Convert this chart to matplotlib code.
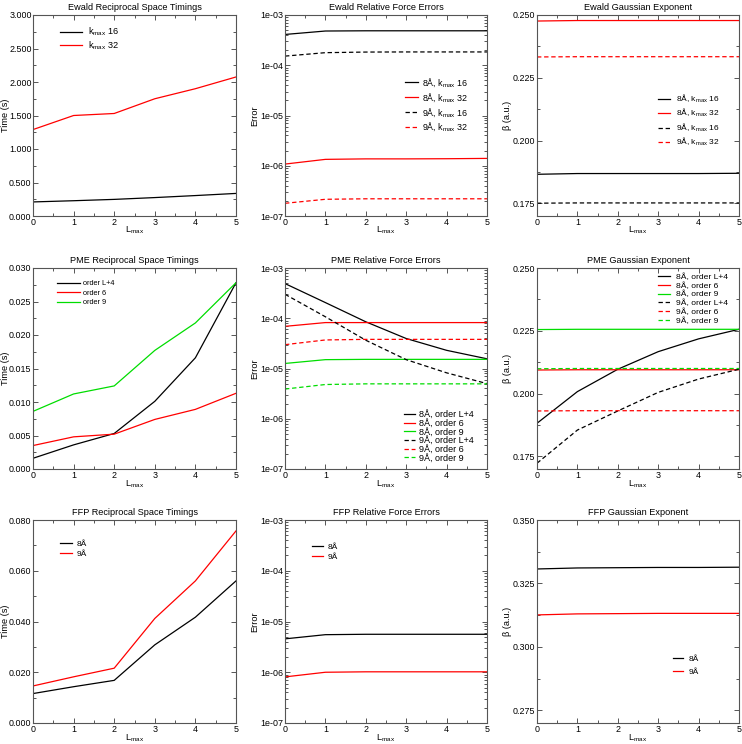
import matplotlib
matplotlib.use("Agg")
import matplotlib.pyplot as plt
from matplotlib.ticker import MultipleLocator, FormatStrFormatter, LogLocator, NullFormatter

plt.rcParams['font.family'] = ['Liberation Sans', 'DejaVu Sans']
plt.rcParams['mathtext.default'] = 'regular'

# ---------------- data ----------------
lmax = [0, 1, 2, 3, 4, 5]

ewald_time_k16 = [0.210, 0.228, 0.248, 0.275, 0.305, 0.337]
ewald_time_k32 = [1.29, 1.50, 1.53, 1.75, 1.90, 2.075]

ewald_err_8_k16 = [4.1e-4, 4.8e-4, 4.85e-4, 4.85e-4, 4.85e-4, 4.85e-4]
ewald_err_8_k32 = [1.08e-6, 1.34e-6, 1.37e-6, 1.37e-6, 1.38e-6, 1.40e-6]
ewald_err_9_k16 = [1.52e-4, 1.78e-4, 1.83e-4, 1.84e-4, 1.84e-4, 1.84e-4]
ewald_err_9_k32 = [1.79e-7, 2.15e-7, 2.2e-7, 2.2e-7, 2.2e-7, 2.2e-7]

ewald_beta_8_k16 = [0.1866, 0.1869, 0.1869, 0.1869, 0.1869, 0.1870]
ewald_beta_8_k32 = [0.2476, 0.2478, 0.2478, 0.2478, 0.2478, 0.2478]
ewald_beta_9_k16 = [0.1751, 0.1752, 0.1752, 0.1752, 0.1752, 0.1752]
ewald_beta_9_k32 = [0.2333, 0.2334, 0.2334, 0.2334, 0.2334, 0.2334]

pme_time_lp4 = [0.0016, 0.0036, 0.0053, 0.0101, 0.0166, 0.0278]
pme_time_o6 = [0.0035, 0.0048, 0.0052, 0.0074, 0.0089, 0.0113]
pme_time_o9 = [0.0086, 0.0112, 0.0124, 0.0177, 0.0218, 0.0278]

pme_err_8_lp4 = [4.9e-4, 2.05e-4, 8.5e-5, 3.95e-5, 2.3e-5, 1.56e-5]
pme_err_8_o6 = [6.9e-5, 8.2e-5, 8.2e-5, 8.2e-5, 8.2e-5, 8.2e-5]
pme_err_8_o9 = [1.26e-5, 1.5e-5, 1.52e-5, 1.52e-5, 1.52e-5, 1.52e-5]
pme_err_9_lp4 = [3.0e-4, 1.07e-4, 3.65e-5, 1.5e-5, 8.2e-6, 5.0e-6]
pme_err_9_o6 = [2.98e-5, 3.7e-5, 3.8e-5, 3.8e-5, 3.8e-5, 3.8e-5]
pme_err_9_o9 = [3.9e-6, 4.8e-6, 4.95e-6, 4.95e-6, 4.95e-6, 4.95e-6]

pme_beta_8_lp4 = [0.1882, 0.2008, 0.2097, 0.2167, 0.2218, 0.2256]
pme_beta_8_o6 = [0.2094, 0.2095, 0.2095, 0.2095, 0.2095, 0.2095]
pme_beta_8_o9 = [0.2255, 0.2256, 0.2256, 0.2256, 0.2256, 0.2256]
pme_beta_9_lp4 = [0.1723, 0.1855, 0.1931, 0.2005, 0.2058, 0.2097]
pme_beta_9_o6 = [0.1931, 0.1932, 0.1932, 0.1932, 0.1932, 0.1932]
pme_beta_9_o9 = [0.2099, 0.2100, 0.2100, 0.2100, 0.2100, 0.2100]

ffp_time_8 = [0.0116, 0.0143, 0.0168, 0.0308, 0.0417, 0.0560]
ffp_time_9 = [0.0146, 0.0182, 0.0216, 0.0412, 0.0560, 0.0757]

ffp_err_8 = [4.55e-6, 5.5e-6, 5.6e-6, 5.6e-6, 5.6e-6, 5.6e-6]
ffp_err_9 = [8.1e-7, 1.0e-6, 1.02e-6, 1.02e-6, 1.02e-6, 1.02e-6]

ffp_beta_8 = [0.3307, 0.3311, 0.3312, 0.3313, 0.3313, 0.3314]
ffp_beta_9 = [0.3126, 0.3130, 0.3131, 0.3132, 0.3132, 0.3132]

titles = ["Ewald Reciprocal Space Timings", "Ewald Relative Force Errors", "Ewald Gaussian Exponent",
          "PME Reciprocal Space Timings", "PME Relative Force Errors", "PME Gaussian Exponent",
          "FFP Reciprocal Space Timings", "FFP Relative Force Errors", "FFP Gaussian Exponent"]

# ---------------- layout ----------------
W, H = 742, 744
fig = plt.figure(figsize=(W / 100, H / 100), dpi=100)
cols = [(33, 236), (285, 487), (537, 739)]
rows = [(15, 216), (268, 469), (520, 723)]
ylabel_x = [5.5, 255, 507]   # pixel x centre of y-axis labels

BLACK, RED, GREEN = 'black', '#ff0000', '#00dd00'
DASH = (3.5, 2.2)
SPINE = '#555555'


def make_ax(r, c):
    x0, x1 = cols[c]
    y0, y1 = rows[r]
    ax = fig.add_axes([x0 / W, 1 - y1 / H, (x1 - x0) / W, (y1 - y0) / H])
    ax.set_xlim(0, 5)
    ax.xaxis.set_major_locator(MultipleLocator(1))
    ax.xaxis.set_minor_locator(MultipleLocator(0.5))
    ax.tick_params(which='both', direction='in', top=True, right=True,
                   labelsize=6.4, color=SPINE, width=0.7)
    ax.tick_params(which='major', length=3.8, pad=1.5)
    ax.tick_params(which='minor', length=2.0)
    ax.tick_params(axis='y', which='major', pad=1.0)
    for s in ax.spines.values():
        s.set_color(SPINE)
        s.set_linewidth(0.8)
    ax.set_title(titles[r * 3 + c], fontsize=6.6, pad=3.5)
    ax.set_xlabel('L$_{max}$', fontsize=6.6, labelpad=-1.5)
    ax._col = c
    return ax


def place_ylabel(ax, text):
    c = ax._col
    x0, x1 = cols[c]
    ax.set_ylabel(text, fontsize=6.6, va='center')
    ax.yaxis.set_label_coords((ylabel_x[c] - x0) / (x1 - x0), 0.5)


def lin_axis(ax, lo, hi, major, minor, ylabel):
    ax.set_ylim(lo, hi)
    ax.yaxis.set_major_locator(MultipleLocator(major))
    ax.yaxis.set_minor_locator(MultipleLocator(minor))
    ax.yaxis.set_major_formatter(FormatStrFormatter('%.3f'))
    place_ylabel(ax, ylabel)


def log_axis(ax):
    ax.set_yscale('log')
    ax.set_ylim(1e-7, 1e-3)
    ax.yaxis.set_major_locator(LogLocator(base=10, numticks=10))
    ax.yaxis.set_minor_locator(LogLocator(base=10, subs=range(2, 10), numticks=20))
    ax.yaxis.set_minor_formatter(NullFormatter())
    ax.yaxis.set_major_formatter(FormatStrFormatter('%.0e'))
    place_ylabel(ax, 'Error')


def legend(ax, xpx, ypx, fs, hl_px, pad_px, spacing):
    fs_px = fs * 100 / 72
    ax.legend(loc='upper left', bbox_to_anchor=(xpx / W, 1 - ypx / H),
              bbox_transform=fig.transFigure, frameon=False, fontsize=fs,
              handlelength=hl_px / fs_px, handletextpad=pad_px / fs_px,
              labelspacing=spacing, borderpad=0, borderaxespad=0)


def line(ax, y, color, dashed=False, label=None):
    ln, = ax.plot(lmax, y, color=color, lw=0.9, label=label)
    if dashed:
        ln.set_dashes(DASH)
    return ln


# ---- Row 1: Ewald ----
ax = make_ax(0, 0)
line(ax, ewald_time_k16, BLACK, label='k$_{max}$ 16')
line(ax, ewald_time_k32, RED, label='k$_{max}$ 32')
lin_axis(ax, 0, 3.0, 0.5, 0.25, 'Time (s)')
legend(ax, 60, 26, 6.6, 22, 6, 0.1)

ax = make_ax(0, 1)
line(ax, ewald_err_8_k16, BLACK, label='8Å, k$_{max}$ 16')
line(ax, ewald_err_8_k32, RED, label='8Å, k$_{max}$ 32')
line(ax, ewald_err_9_k16, BLACK, True, label='9Å, k$_{max}$ 16')
line(ax, ewald_err_9_k32, RED, True, label='9Å, k$_{max}$ 32')
log_axis(ax)
legend(ax, 405, 76, 6.4, 13, 4, 0.2)

ax = make_ax(0, 2)
line(ax, ewald_beta_8_k16, BLACK, label='8Å, k$_{max}$ 16')
line(ax, ewald_beta_8_k32, RED, label='8Å, k$_{max}$ 32')
line(ax, ewald_beta_9_k16, BLACK, True, label='9Å, k$_{max}$ 16')
line(ax, ewald_beta_9_k32, RED, True, label='9Å, k$_{max}$ 32')
lin_axis(ax, 0.170, 0.250, 0.025, 0.0125, 'β (a.u.)')
legend(ax, 658, 93, 6.0, 12, 6, 0.25)

# ---- Row 2: PME ----
ax = make_ax(1, 0)
line(ax, pme_time_lp4, BLACK, label='order L+4')
line(ax, pme_time_o6, RED, label='order 6')
line(ax, pme_time_o9, GREEN, label='order 9')
lin_axis(ax, 0, 0.030, 0.005, 0.0025, 'Time (s)')
legend(ax, 57, 280, 5.3, 23, 3, 0.33)

ax = make_ax(1, 1)
line(ax, pme_err_8_lp4, BLACK, label='8Å, order L+4')
line(ax, pme_err_8_o6, RED, label='8Å, order 6')
line(ax, pme_err_8_o9, GREEN, label='8Å, order 9')
line(ax, pme_err_9_lp4, BLACK, True, label='9Å, order L+4')
line(ax, pme_err_9_o6, RED, True, label='9Å, order 6')
line(ax, pme_err_9_o9, GREEN, True, label='9Å, order 9')
log_axis(ax)
legend(ax, 404, 410, 6.5, 11, 4, -0.03)

ax = make_ax(1, 2)
line(ax, pme_beta_8_lp4, BLACK, label='8Å, order L+4')
line(ax, pme_beta_8_o6, RED, label='8Å, order 6')
line(ax, pme_beta_8_o9, GREEN, label='8Å, order 9')
line(ax, pme_beta_9_lp4, BLACK, True, label='9Å, order L+4')
line(ax, pme_beta_9_o6, RED, True, label='9Å, order 6')
line(ax, pme_beta_9_o9, GREEN, True, label='9Å, order 9')
lin_axis(ax, 0.170, 0.250, 0.025, 0.0125, 'β (a.u.)')
legend(ax, 658, 273, 6.1, 12, 6, 0.1)

# ---- Row 3: FFP ----
ax = make_ax(2, 0)
line(ax, ffp_time_8, BLACK, label='8Å')
line(ax, ffp_time_9, RED, label='9Å')
lin_axis(ax, 0, 0.080, 0.020, 0.010, 'Time (s)')
legend(ax, 60, 540, 6.0, 12, 5, 0.3)

ax = make_ax(2, 1)
line(ax, ffp_err_8, BLACK, label='8Å')
line(ax, ffp_err_9, RED, label='9Å')
log_axis(ax)
legend(ax, 312, 543, 6.0, 11, 5, 0.3)

ax = make_ax(2, 2)
line(ax, ffp_beta_8, BLACK, label='8Å')
line(ax, ffp_beta_9, RED, label='9Å')
lin_axis(ax, 0.270, 0.350, 0.025, 0.0125, 'β (a.u.)')
legend(ax, 673, 655, 6.0, 10, 6, 0.65)

fig.savefig('out.png', dpi=100)
